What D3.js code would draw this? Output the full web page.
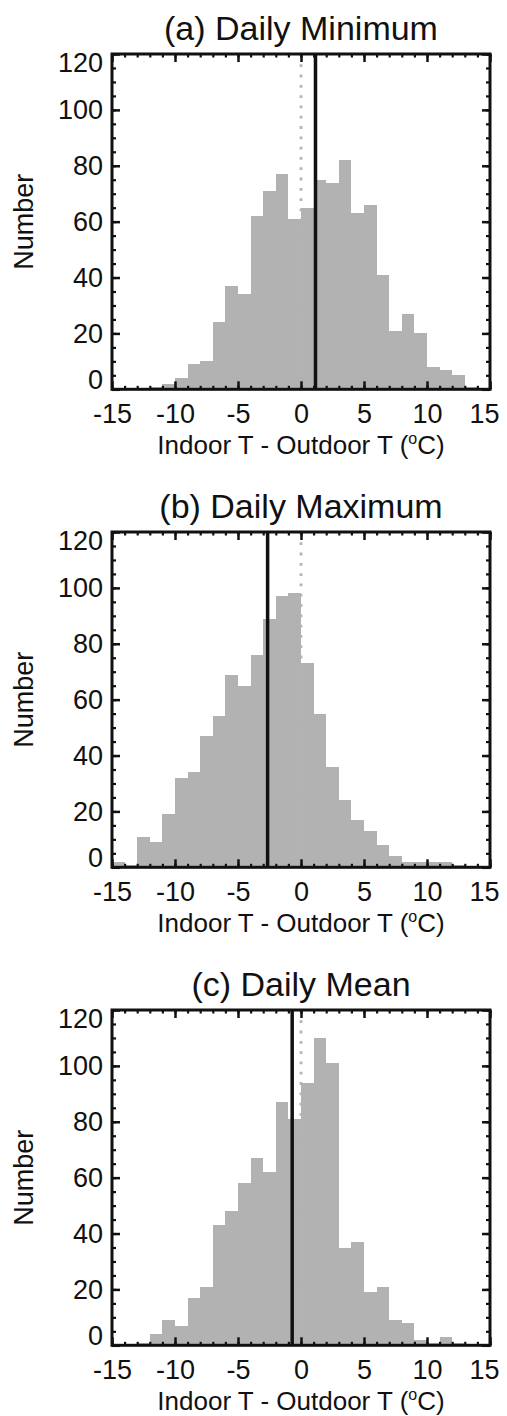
<!DOCTYPE html>
<html>
<head>
<meta charset="utf-8">
<script src="https://cdn.jsdelivr.net/npm/d3@7"></script>
<style>
  body { margin: 0; background: #fff; }
  text { font-family: "Liberation Sans", Arial, Helvetica, sans-serif; fill: #111; }
</style>
</head>
<body>
<script>
// left edges of the 1-degree bins
const BIN_LEFT = [-15, -14, -13, -12, -11, -10, -9, -8, -7, -6, -5, -4, -3, -2, -1,
                  0, 1, 2, 3, 4, 5, 6, 7, 8, 9, 10, 11, 12, 13, 14];

const COUNTS_MIN  = [0, 0, 0, 1, 2, 4, 9, 10, 24, 37, 34, 62, 71, 77, 61,
                     65, 75, 74, 82, 63, 66, 41, 21, 27, 20, 8, 7, 5, 1, 0];
const COUNTS_MAX  = [2, 1, 11, 9, 19, 32, 34, 47, 54, 69, 65, 76, 89, 97, 98,
                     73, 55, 36, 24, 17, 13, 8, 4, 2, 2, 2, 2, 1, 0, 0];
const COUNTS_MEAN = [0, 0, 1, 4, 9, 7, 17, 21, 43, 48, 58, 67, 62, 87, 81,
                     94, 110, 101, 35, 37, 19, 21, 9, 8, 2, 1, 3, 1, 0, 0];

const PANEL_TITLES = ['(a) Daily Minimum', '(b) Daily Maximum', '(c) Daily Mean'];
const MEAN_DIFF = [1.15, -2.65, -0.7];   // solid black line

const X_TICKS = [-15, -10, -5, 0, 5, 10, 15];
const X_MINOR = [-15, -14, -13, -12, -11, -10, -9, -8, -7, -6, -5, -4, -3, -2, -1,
                 0, 1, 2, 3, 4, 5, 6, 7, 8, 9, 10, 11, 12, 13, 14, 15];
const Y_TICKS = [0, 20, 40, 60, 80, 100, 120];
const Y_MINOR = [0, 5, 10, 15, 20, 25, 30, 35, 40, 45, 50, 55, 60,
                 65, 70, 75, 80, 85, 90, 95, 100, 105, 110, 115, 120];

const PANELS = [COUNTS_MIN, COUNTS_MAX, COUNTS_MEAN];

const LEFT = 112, RIGHT = 490, TOP = 54, PLOT_H = 335.3, PANEL_STEP = 478;
const BAR_FILL = '#b2b2b2';

const svg = d3.select('body').append('svg')
  .attr('width', 507)
  .attr('height', 1416);

const x = d3.scaleLinear().domain([-15, 15]).range([LEFT, RIGHT]);
const y = d3.scaleLinear().domain([0, 120]).range([PLOT_H, 0]);

const styleTicks = (g, width) => {
  g.select('.domain').remove();
  g.selectAll('.tick line').attr('stroke', '#111').attr('stroke-width', width);
};

PANELS.forEach((counts, i) => {
  const g = svg.append('g')
    .attr('transform', `translate(0,${TOP + i * PANEL_STEP})`);

  // bars
  g.append('g').selectAll('rect')
    .data(counts.map((c, k) => ({ x0: BIN_LEFT[k], count: c })))
    .join('rect')
      .attr('x', d => x(d.x0))
      .attr('width', d => x(d.x0 + 1) - x(d.x0))
      .attr('y', d => y(d.count))
      .attr('height', d => y(0) - y(d.count))
      .attr('fill', BAR_FILL)
      .attr('shape-rendering', 'crispEdges');

  // zero reference (dotted) and mean difference (solid)
  g.append('line')
    .attr('x1', x(0)).attr('x2', x(0))
    .attr('y1', y(120)).attr('y2', y(0))
    .attr('stroke', '#b4b4b4')
    .attr('stroke-width', 2.8)
    .attr('stroke-dasharray', '2.8 7.5');

  g.append('line')
    .attr('x1', x(MEAN_DIFF[i])).attr('x2', x(MEAN_DIFF[i]))
    .attr('y1', y(120)).attr('y2', y(0))
    .attr('stroke', '#111')
    .attr('stroke-width', 3.5);

  // bottom axis with labels (plain hyphen minus, as in the original)
  const bottom = g.append('g')
    .attr('transform', `translate(0,${PLOT_H})`)
    .call(d3.axisBottom(x).tickValues(X_TICKS).tickSize(-8).tickPadding(15)
      .tickFormat(d => String(d)));
  styleTicks(bottom, 2.5);
  bottom.attr('font-family', null);
  bottom.selectAll('text')
    .attr('font-size', 27)
    .attr('x', d => d === 15 ? -6 : 0);

  const bottomMinor = g.append('g')
    .attr('transform', `translate(0,${PLOT_H})`)
    .call(d3.axisBottom(x).tickValues(X_MINOR).tickSize(-3.5).tickFormat(''));
  styleTicks(bottomMinor, 2.2);

  // top axis (mirrored ticks)
  const top = g.append('g')
    .call(d3.axisTop(x).tickValues(X_TICKS).tickSize(-8).tickFormat(''));
  styleTicks(top, 2.5);
  const topMinor = g.append('g')
    .call(d3.axisTop(x).tickValues(X_MINOR).tickSize(-3.5).tickFormat(''));
  styleTicks(topMinor, 2.2);

  // left axis with labels
  const left = g.append('g')
    .attr('transform', `translate(${LEFT},0)`)
    .call(d3.axisLeft(y).tickValues(Y_TICKS).tickSize(-8).tickPadding(9)
      .tickFormat(d => String(d)));
  styleTicks(left, 2.5);
  left.attr('font-family', null);
  left.selectAll('text')
    .attr('font-size', 27)
    .attr('y', d => d === 0 ? -9 : (d === 120 ? 9 : 0));

  const leftMinor = g.append('g')
    .attr('transform', `translate(${LEFT},0)`)
    .call(d3.axisLeft(y).tickValues(Y_MINOR).tickSize(-4).tickFormat(''));
  styleTicks(leftMinor, 2.2);

  // right axis (mirrored ticks)
  const right = g.append('g')
    .attr('transform', `translate(${RIGHT},0)`)
    .call(d3.axisRight(y).tickValues(Y_TICKS).tickSize(-8).tickFormat(''));
  styleTicks(right, 2.5);
  const rightMinor = g.append('g')
    .attr('transform', `translate(${RIGHT},0)`)
    .call(d3.axisRight(y).tickValues(Y_MINOR).tickSize(-4).tickFormat(''));
  styleTicks(rightMinor, 2.2);

  // frame
  g.append('rect')
    .attr('x', LEFT).attr('y', 0)
    .attr('width', RIGHT - LEFT).attr('height', PLOT_H)
    .attr('fill', 'none')
    .attr('stroke', '#111')
    .attr('stroke-width', 3);

  // title
  g.append('text')
    .attr('x', (LEFT + RIGHT) / 2)
    .attr('y', -14)
    .attr('text-anchor', 'middle')
    .attr('font-size', 34)
    .text(PANEL_TITLES[i]);

  // x label with superscript degree
  const xl = g.append('text')
    .attr('x', (LEFT + RIGHT) / 2)
    .attr('y', PLOT_H + 65)
    .attr('text-anchor', 'middle')
    .attr('font-size', 26);
  xl.append('tspan').text('Indoor T - Outdoor T (');
  xl.append('tspan').attr('font-size', 16).attr('dy', -10).text('o');
  xl.append('tspan').attr('dy', 10).text('C)');

  // y label
  g.append('text')
    .attr('transform', `translate(33,${PLOT_H / 2}) rotate(-90)`)
    .attr('text-anchor', 'middle')
    .attr('font-size', 27)
    .text('Number');
});
</script>
</body>
</html>
